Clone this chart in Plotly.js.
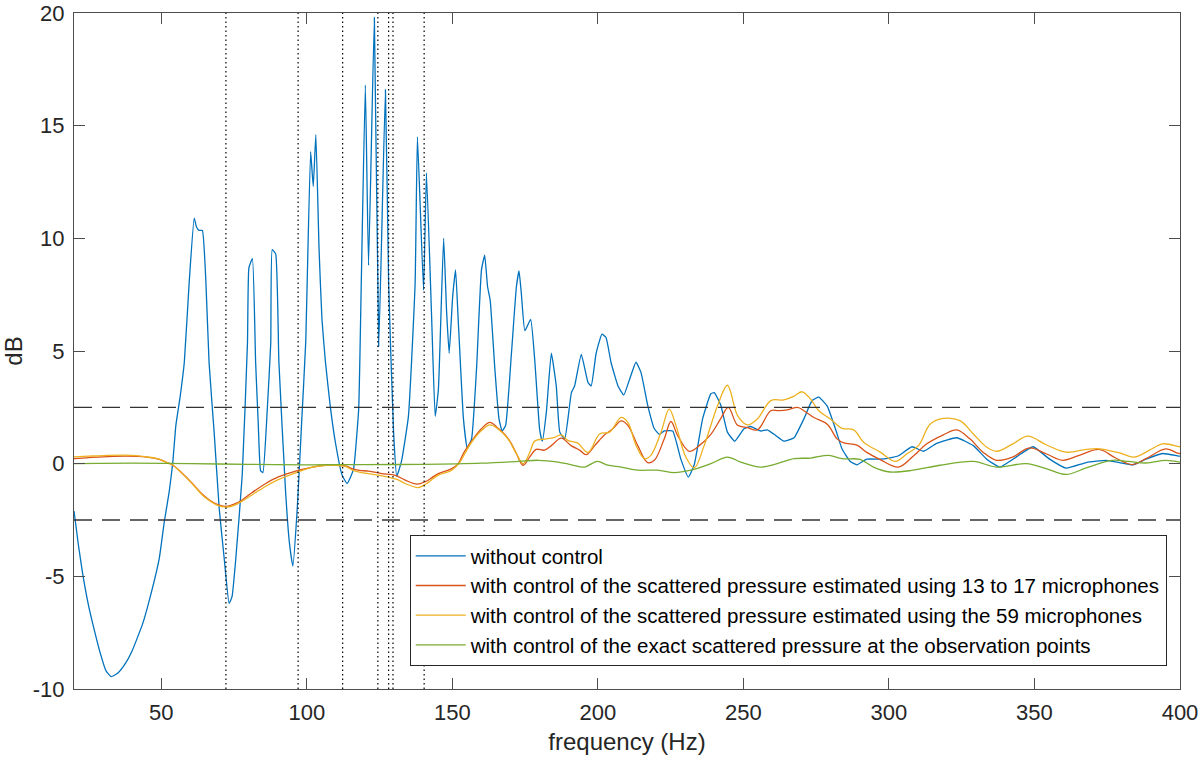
<!DOCTYPE html>
<html>
<head>
<meta charset="utf-8">
<script src="https://cdn.plot.ly/plotly-3.0.1.min.js"></script>
<style>html,body{margin:0;padding:0;background:#fff;}#chart{width:1200px;height:761px;}</style>
</head>
<body>
<div id="chart"></div>
<script>
// ---- data (frequency in Hz, level in dB) ----
const blueFreq = [20,21.5,23,25,27,29,31,32.8,35,37.5,40,43.6,46,49.3,51,52.7,53.9,55,56.5,57.9,59.6,61.3,62.1,63,64.1,65.3,66.4,68.2,69.9,71.6,73.3,74.3,75.6,77.8,79.6,80.1,81.3,82.4,83.3,84.1,84.9,86.4,87.6,88.1,89.3,90.4,92.7,94,95.2,96.7,98.2,99.6,101.3,102.2,103.1,104.2,105.2,106.4,108,109.8,112.1,113.8,115,116.1,117.8,118.7,120.1,121.2,123.2,124.7,127,128.1,129.8,130.9,132.5,134.9,137.2,138,140.1,141.1,142.9,144.1,145.2,147,148,148.9,150.1,151.1,152,153.8,155.1,156.6,158.3,160,161.1,162.1,163,164.6,166,167.1,168.3,170.3,172,172.9,173.7,174.9,176.9,178.3,180,180.9,182.3,184,185.7,186.9,188.6,190.9,192,194.3,196.6,197.7,199.4,201.4,202.8,204.5,206.9,208.9,210.9,213.1,214.8,217.1,219.4,221.1,222.8,225.7,228.5,231.1,233.1,236,238.8,240,242.2,244.5,247,250.2,252.5,255.9,258.2,261.1,263.9,267.4,270.8,273.6,275.9,278.8,281.6,283.9,286.7,289,292.4,297,300,303.3,307.9,311.9,316.4,323.3,329,333.6,338.1,343.8,349.5,355.2,360.9,367.8,374.6,379.2,383.8,388.3,394,399.2,400];
const blueDb = [-2.1,-3.6,-4.9,-6.3,-7.4,-8.4,-9.2,-9.45,-9.3,-8.9,-8.3,-7.1,-6.0,-4.2,-2.6,-1.25,0,1.7,3.0,4.5,8.1,10.9,10.5,10.35,10.35,8.1,4.5,1.3,-2.0,-4.2,-6.2,-5.9,-4.2,-0.5,5.35,8.7,9.1,4.5,1.8,-0.3,-0.4,2.4,5.35,9.5,9.3,4.5,-1.25,-3.5,-4.55,-2.0,1.8,5.35,13.85,12.3,14.6,9.5,6.4,4.5,2.6,0.95,-0.5,-0.88,-0.6,-0.2,2.4,8.0,16.8,8.8,19.8,5.2,16.6,8.0,1.4,-0.55,0.1,2.1,8.0,14.5,7.7,12.9,6.4,2.1,3.3,10.0,6.8,4.9,7.4,8.6,6.4,2.0,0.7,1.1,4.2,8.6,9.25,7.85,7.25,4.2,2.0,1.45,1.7,4.9,7.85,8.55,7.55,5.9,6.4,4.6,1.5,1.0,2.3,4.9,3.45,1.4,1.1,3.15,3.45,4.85,3.6,3.45,4.9,5.75,5.6,4.5,3.45,3.05,3.75,4.5,4.05,2.6,1.55,1.3,1.45,1.45,0.2,-0.6,-0.05,2.0,3.1,3.15,2.6,1.4,1.0,1.55,1.65,1.45,1.5,1.25,1.0,1.15,2.0,2.8,2.95,2.55,1.55,0.65,0.1,-0.05,0.2,0.2,0.25,0.35,0.75,0.55,0.9,1.15,0.8,0.2,-0.15,0.3,0.75,0.2,-0.2,0.05,0.15,0.05,-0.05,0.2,0.45,0.35,0.33];

const redFreq = [20,25,30,38,45,49.3,52,54,57,60.7,64,66.4,69,72.2,75,77.9,81,85.9,90,97.3,102,106.4,110,113.3,115.5,118,121.2,125.8,130.4,133.8,137.8,140.7,143,145.2,149.8,152,154,156.6,160,162.9,165.7,168,170,172,174.3,176.6,178.8,181.7,184,187.4,190.8,193.7,196,198.9,202.3,205.1,208,210.3,213.7,217.1,219.4,222.8,225.1,227.4,231.4,234.8,238.8,242.2,244.8,248,251.4,254.8,259.4,262.2,265.5,268.6,270.8,274.2,278.8,282.2,284.5,289,292.4,297,303.3,308.4,313,318.7,323.3,327.8,332.4,337,342.6,348.3,354,359.7,365.4,372.2,377.9,383.6,388.3,395.1,399.1,400];
const redDb = [0.22,0.27,0.3,0.33,0.29,0.19,0.05,-0.07,-0.4,-0.88,-1.35,-1.6,-1.8,-1.9,-1.8,-1.6,-1.3,-0.88,-0.6,-0.29,-0.15,-0.07,-0.07,-0.1,-0.22,-0.3,-0.33,-0.44,-0.52,-0.73,-0.91,-0.8,-0.62,-0.44,-0.22,0.0,0.5,1.0,1.55,1.83,1.57,1.3,0.95,0.45,-0.07,0.3,0.63,0.6,0.8,1.13,0.8,0.6,0.4,0.8,1.28,1.55,1.9,1.7,0.8,0.05,0.15,1.1,1.87,1.25,0.55,0.8,1.3,2.0,2.5,1.7,1.6,1.5,2.35,2.35,2.4,2.5,2.35,2.05,1.75,1.1,0.92,0.82,0.5,0.18,-0.15,0.34,0.88,1.28,1.5,1.1,0.5,0.15,0.3,0.7,0.44,0.15,0.37,0.63,0.25,-0.04,0.22,0.66,0.47,0.45];

const yellowFreq = [20,25,30,38,45,49.3,52,54,57,60.7,64,66.4,69,72.2,75,77.9,81,85.9,90,97.3,102,106.4,110,113.3,115.5,118,121.2,125,128.1,131,133.8,138.3,141.2,143,145.2,149.8,152.6,154.5,156.6,160,162.9,165.7,169.1,172,174.3,176.6,178.3,182.3,185.2,187.4,189.7,193.1,196.6,200.6,204,208,210.3,213.1,216,218.2,221.7,224.5,226.8,230.2,233.1,236.5,241.1,244.5,248,251.4,254.8,259.4,263.9,267.4,270.2,273.1,275.9,279.9,283.9,287.9,291.3,297,302.2,306.2,310.2,314.2,318.7,324.4,329,333.6,337,342.6,347.7,354,360.9,367.8,372.2,379.2,384.3,389.4,394,399.2,400];
const yellowDb = [0.3,0.33,0.36,0.38,0.3,0.2,0.05,-0.07,-0.42,-0.9,-1.38,-1.63,-1.83,-1.93,-1.85,-1.65,-1.4,-1.0,-0.72,-0.35,-0.15,-0.07,-0.08,-0.12,-0.28,-0.38,-0.44,-0.52,-0.6,-0.7,-0.88,-1.06,-0.88,-0.7,-0.51,-0.29,0.07,0.5,0.95,1.47,1.72,1.54,1.1,0.44,0.0,0.5,1.0,1.1,1.17,1.28,1.03,0.91,0.5,1.32,1.4,2.05,1.83,0.81,0.22,0.37,1.4,2.42,1.7,0.3,-0.19,0.8,2.57,3.48,2.13,1.72,1.98,2.8,2.83,3.0,3.19,2.86,2.35,1.98,1.57,1.5,0.95,0.51,0.1,0.44,0.81,1.76,2.01,1.91,1.32,0.73,0.55,0.88,1.22,0.84,0.51,0.63,0.66,0.48,0.29,0.59,0.88,0.77,0.75];

const greenFreq = [20,40,60,80,100,120,140,160,172.6,179.5,186.3,191,195.4,199.8,203.4,208,213.7,220.5,226.3,231.9,238.8,244.5,249.1,255.9,261.6,267.4,273.1,279.3,283.9,290.1,294.7,300.4,308.4,317.5,329,337,347.2,354,360.9,367.8,376.6,382.3,388.3,395.1,400];
const greenDb = [0.0,0.02,0.0,-0.03,-0.05,-0.04,-0.03,0.02,0.1,0.15,0.07,-0.05,-0.15,0.1,-0.07,-0.15,-0.29,-0.29,-0.4,-0.29,0,0.29,0.07,-0.15,0,0.22,0.25,0.37,0.22,0.19,-0.15,-0.37,-0.29,-0.07,0.1,-0.15,0,-0.22,-0.48,-0.19,0.15,0.1,0.03,0.15,0.07];

const seriesNames = [
  "without control",
  "with control of the scattered pressure estimated using 13 to 17 microphones",
  "with control of the scattered pressure estimated using the 59 microphones",
  "with control of the exact scattered pressure at the observation points"
];
const markerFreqs = [72.2, 97.0, 112.3, 124.4, 128.1, 129.6, 140.3];   // vertical dotted lines
const thresholdDb = [2.5, -2.5];                                        // dashed horizontal lines
const xRange = [20, 400];
const yRange = [-10, 20];
const xTickVals = [50,100,150,200,250,300,350,400];
const yTickVals = [-10,-5,0,5,10,15,20];
const yTickLabels = ["-10","-5","0","5","10","15","20"];

// ---- build traces ----
const colors = ["#0072BD","#D95319","#EDB120","#77AC30"];
const FONT = "Liberation Sans, Arial, Helvetica, sans-serif";
const traces = [];

traces.push({x: blueFreq, y: blueDb, name: seriesNames[0], type: "scatter", mode: "lines",
  line: {color: colors[0], width: 1.3, shape: "spline", smoothing: 0.4}});
traces.push({x: redFreq, y: redDb, name: seriesNames[1], type: "scatter", mode: "lines",
  line: {color: colors[1], width: 1.3, shape: "spline", smoothing: 1}});
traces.push({x: yellowFreq, y: yellowDb, name: seriesNames[2], type: "scatter", mode: "lines",
  line: {color: colors[2], width: 1.3, shape: "spline", smoothing: 1}});
traces.push({x: greenFreq, y: greenDb, name: seriesNames[3], type: "scatter", mode: "lines",
  line: {color: colors[3], width: 1.3, shape: "spline", smoothing: 1}});

// dashed thresholds
const dx = [], dy = [];
thresholdDb.forEach(v => { dx.push(xRange[0], xRange[1], null); dy.push(v, v, null); });
traces.push({x: dx, y: dy, type: "scatter", mode: "lines", showlegend: false, hoverinfo: "skip",
  line: {color: "#333333", width: 1.3, dash: "18px,10px"}});

// dotted verticals
const vx = [], vy = [];
markerFreqs.forEach(f => { vx.push(f, f, null); vy.push(yRange[0], yRange[1], null); });
traces.push({x: vx, y: vy, type: "scatter", mode: "lines", showlegend: false, hoverinfo: "skip",
  line: {color: "#000000", width: 1.2, dash: "1.5px,3px"}});

const axisCommon = {
  showgrid: false, zeroline: false, showline: true, mirror: "ticks",
  linecolor: "#4d4d4d", linewidth: 1, ticks: "inside", ticklen: 11, tickwidth: 1,
  tickcolor: "#4d4d4d", tickfont: {family: FONT, size: 22, color: "#262626"},
  ticklabeloverflow: "allow"
};
const eps = 0.001; // keep the end ticks from being dropped at the exact range edge

const layout = {
  width: 1200, height: 761,
  margin: {l: 74, r: 20, t: 13, b: 72},
  paper_bgcolor: "#ffffff", plot_bgcolor: "#ffffff",
  font: {family: FONT, color: "#262626"},
  showlegend: true,
  xaxis: Object.assign({}, axisCommon, {
    range: [xRange[0], xRange[1] + eps], tickvals: xTickVals, ticklabelstandoff: 4,
    title: {text: "frequency (Hz)", font: {family: FONT, size: 24, color: "#262626"}, standoff: 8}
  }),
  yaxis: Object.assign({}, axisCommon, {
    range: [yRange[0] - eps, yRange[1] + eps], tickvals: yTickVals, ticktext: yTickLabels, ticklabelstandoff: 4,
    title: {text: "dB", font: {family: FONT, size: 24, color: "#262626"}, standoff: 12}
  }),
  legend: {
    x: 0.988, y: 0.034, xanchor: "right", yanchor: "bottom",
    bgcolor: "#ffffff", bordercolor: "#262626", borderwidth: 1,
    font: {family: FONT, size: 20.5, color: "#000000"},
    itemwidth: 50, tracegroupgap: 0
  }
};

Plotly.newPlot("chart", traces, layout, {staticPlot: true, displayModeBar: false});
</script>
</body>
</html>
